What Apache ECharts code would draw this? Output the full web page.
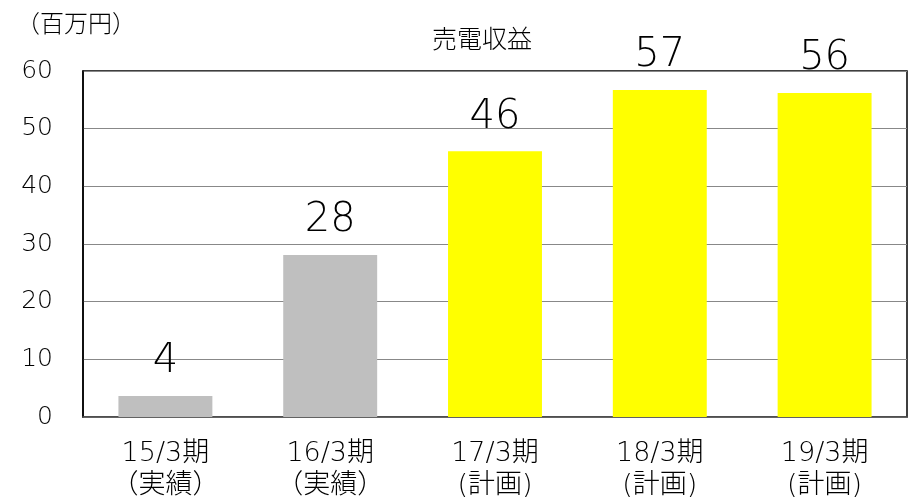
<!DOCTYPE html>
<html><head><meta charset="utf-8">
<script src="https://cdn.jsdelivr.net/npm/echarts@6/dist/echarts.min.js"></script>
<style>html,body{margin:0;padding:0;background:#fff}#c{width:916px;height:500px}</style>
</head><body><div id="c"></div>
<script>
const categories = ['15/3期\n（実績）','16/3期\n（実績）','17/3期\n(計画)','18/3期\n(計画)','19/3期\n(計画)'];
const values = [3.65, 28.1, 46.1, 56.7, 56.2];
const labels = ['4','28','46','57','56'];
const barColors = ['#BFBFBF','#BFBFBF','#FFFF00','#FFFF00','#FFFF00'];
const yTicks = [0,10,20,30,40,50,60];
const font = '"DejaVu Sans", "Noto Sans CJK JP", sans-serif';
const cjk = '"Noto Sans CJK JP", sans-serif';
const chart = echarts.init(document.getElementById('c'));
chart.setOption({
  animation:false,
  textStyle:{fontFamily:font},
  graphic:[
    {type:'text', left:16, top:11, style:{text:'（百万円）', fontSize:24, fill:'#000', fontFamily:cjk, fontWeight:300}},
    {type:'text', x:482, y:38, style:{text:'売電収益', fontSize:25, fill:'#000', fontFamily:cjk, fontWeight:300, align:'center', verticalAlign:'middle'}}
  ],
  grid:{left:83, right:9, top:71, bottom:83, outerBoundsMode:'none', containLabel:false, show:true, borderColor:'#000', borderWidth:1.5},
  xAxis:{type:'category', data:categories,
    axisLine:{lineStyle:{color:'#555', width:1.5}}, axisTick:{show:false},
    axisLabel:{fontSize:27, color:'#000', lineHeight:32, margin:21, fontFamily:font, fontWeight:300}},
  yAxis:{type:'value', min:0, max:60, interval:10,
    axisLine:{show:true, lineStyle:{color:'#000', width:1.5}}, axisTick:{show:false},
    splitLine:{lineStyle:{color:'#888', width:1}},
    axisLabel:{fontSize:25, color:'#000', margin:30, fontFamily:font, fontWeight:300,
      formatter:v=> yTicks.includes(v) ? String(v) : ''}},
  series:[{type:'bar', barWidth:'57%',
    data: values.map((v,i)=>({value:v, itemStyle:{color:barColors[i]}, label:{formatter:labels[i]}})),
    label:{show:true, position:'top', distance:14, fontSize:40, color:'#000', fontFamily:font, fontWeight:300}}]
});
</script></body></html>
